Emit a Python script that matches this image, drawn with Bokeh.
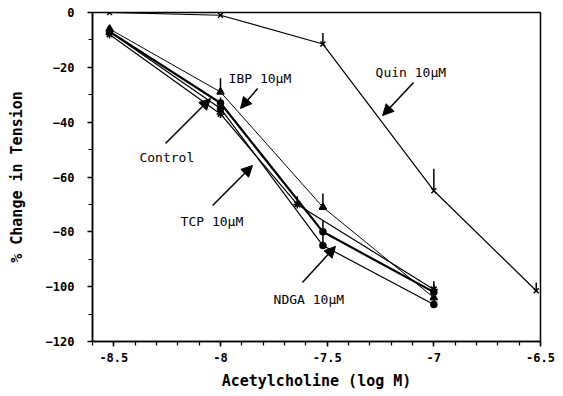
from bokeh.plotting import figure
from bokeh.models import Range1d, FixedTicker, Arrow, NormalHead, Label
from bokeh.embed import file_html
from bokeh.resources import INLINE

# ---- data (log M, % change in tension) ----
ctrl_x = [-8.52, -8.0, -7.52, -7.0]
ctrl_y = [-7, -33, -80, -102]
ctrl_err = [0, 2, 4, 3]

ibp_x = [-8.52, -8.0, -7.52, -7.0]
ibp_y = [-6, -29, -71, -104]
ibp_err = [0, 5, 5, 3]

tcp_x = [-8.52, -8.0, -7.64, -7.0]
tcp_y = [-8, -37, -70, -101]
tcp_err = [0, 2, 3, 3]

ndga_x = [-8.52, -8.0, -7.52, -7.0]
ndga_y = [-7, -35, -85, -106.5]
ndga_err = [0, 2, 5, 3]

quin_x = [-8.52, -8.0, -7.52, -7.0, -6.52]
quin_y = [0, -1, -11.5, -65, -101.5]
quin_err = [0, 0, 4, 8, 3]

x_ticks = [-8.5, -8.0, -7.5, -7.0, -6.5]
x_tick_labels = ["-8.5", "-8", "-7.5", "-7", "-6.5"]
y_ticks = [0, -20, -40, -60, -80, -100, -120]

# annotation labels (text, left x, center y) and arrows (tail -> head), data units
ann_text = ["IBP 10\u03bcM", "Control", "TCP 10\u03bcM", "NDGA 10\u03bcM", "Quin 10\u03bcM"]
ann_x = [-7.962, -8.380, -8.187, -7.751, -7.273]
ann_y = [-24.1, -52.9, -76.2, -104.7, -21.9]
arr_x0 = [-7.826, -8.258, -8.037, -7.616, -7.095]
arr_y0 = [-27.7, -47.8, -70.4, -98.5, -25.5]
arr_x1 = [-7.906, -8.047, -7.850, -7.461, -7.240]
arr_y1 = [-35.0, -31.4, -55.8, -85.3, -37.6]

FONT = "DejaVu Sans Mono"

p = figure(width=563, height=396, output_backend="svg", toolbar_location=None,
           x_range=Range1d(-8.6, -6.5), y_range=Range1d(-120, 0),
           min_border_left=92, min_border_right=23, min_border_top=12,
           min_border_bottom=55)
p.background_fill_color = "white"
p.border_fill_color = "white"
p.grid.visible = False
p.outline_line_color = "black"
p.outline_line_width = 1.5

# axes
p.xaxis.ticker = FixedTicker(ticks=x_ticks,
                             minor_ticks=[round(-8.6 + 0.1 * i, 2) for i in range(22)])
p.xaxis.major_label_overrides = {t: l for t, l in zip(x_ticks, x_tick_labels)}
p.yaxis.ticker = FixedTicker(ticks=y_ticks, minor_ticks=list(range(-120, 1, 10)))
for ax in (p.xaxis[0], p.yaxis[0]):
    ax.axis_line_width = 1.5
    ax.axis_line_color = "black"
    ax.major_tick_line_color = "black"
    ax.minor_tick_line_color = "black"
    ax.major_tick_line_width = 1.5
    ax.minor_tick_line_width = 1.2
    ax.major_tick_out = 5
    ax.major_tick_in = 0
    ax.minor_tick_out = 4
    ax.minor_tick_in = 0
    ax.major_label_text_font = FONT
    ax.major_label_text_font_style = "bold"
    ax.major_label_text_font_size = "12px"
    ax.major_label_text_color = "black"
    ax.axis_label_text_font = FONT
    ax.axis_label_text_font_style = "bold"
    ax.axis_label_text_font_size = "15px"
    ax.axis_label_text_color = "black"
p.xaxis.axis_label = "Acetylcholine (log M)"
p.yaxis.axis_label = "% Change in Tension"
p.xaxis.major_label_standoff = 6
p.xaxis.axis_label_standoff = 7
p.yaxis.major_label_standoff = 13
p.yaxis.axis_label_standoff = 17

def series(xs, ys, errs, lw, marker, size, fill=True):
    p.line(xs, ys, line_color="black", line_width=lw)
    p.segment(x0=xs, y0=ys, x1=xs, y1=[y + e for y, e in zip(ys, errs)],
              line_color="black", line_width=1.5)
    p.scatter(xs, ys, marker=marker, size=size, line_color="black",
              fill_color="black" if fill else "white", line_width=1.5)

series(quin_x, quin_y, quin_err, 1.2, "x", 7)
series(ibp_x, ibp_y, ibp_err, 1.0, "triangle", 7)
series(ctrl_x, ctrl_y, ctrl_err, 2.2, "circle", 6)
series(ndga_x, ndga_y, ndga_err, 1.2, "circle", 6)
series(tcp_x, tcp_y, tcp_err, 1.2, "asterisk", 8)

for t, x, y in zip(ann_text, ann_x, ann_y):
    p.add_layout(Label(x=x, y=y, text=t, text_font=FONT, text_font_size="13px",
                       text_color="black", text_baseline="middle", text_align="left"))
for x0, y0, x1, y1 in zip(arr_x0, arr_y0, arr_x1, arr_y1):
    p.add_layout(Arrow(x_start=x0, y_start=y0, x_end=x1, y_end=y1,
                       line_color="black", line_width=1.5,
                       end=NormalHead(size=11, fill_color="black", line_color="black")))

open("out.html", "w").write(file_html(p, INLINE))
